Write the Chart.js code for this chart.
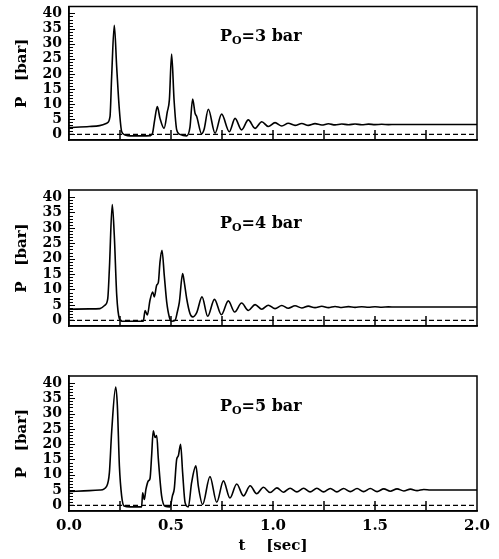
<!DOCTYPE html>
<html><head><meta charset="utf-8">
<script src="https://cdn.jsdelivr.net/npm/chart.js@4/dist/chart.umd.min.js"></script>
<style>
html,body{margin:0;padding:0;background:#fff;width:499px;height:559px;overflow:hidden}
canvas{position:absolute;left:0}
</style></head><body>
<canvas id="c1" width="499" height="170" style="top:0px"></canvas>
<canvas id="c2" width="499" height="185" style="top:170px"></canvas>
<canvas id="c3" width="499" height="204" style="top:355px"></canvas>
<script>
// ---- data (t in sec, P in bar) ----
const t1 = [0,0.10,0.15,0.185,0.201,0.209,0.222,0.234,0.247,0.258,0.275,0.30,0.35,0.40,0.41,0.42,0.433,0.446,0.466,0.482,0.492,0.503,0.515,0.528,0.544,0.577,0.593,0.606,0.618,0.626,0.650,0.662,0.683,0.716,0.748,0.786,0.814,0.846,0.879,0.912,0.945,0.977,1.010,1.043,1.075,1.108,1.141,1.173,1.206,1.239,1.272,1.304,1.337,1.370,1.402,1.435,1.468,1.500,1.533,1.566,1.60,1.70,1.80,1.90,2.00];
const p1 = [2.3,2.6,2.9,3.7,5.9,19.0,36.1,22.0,8.0,1.0,-0.2,-0.5,-0.5,-0.4,0.5,4.8,9.2,5.3,2.0,7.5,11.4,26.6,11.4,1.5,0.0,-0.5,2.4,11.7,7.0,5.9,0.2,1.6,8.3,0.4,6.7,0.9,5.3,1.5,4.8,2.0,4.2,2.6,3.9,2.8,3.7,3.0,3.6,3.0,3.55,3.1,3.5,3.15,3.45,3.2,3.45,3.2,3.4,3.25,3.35,3.25,3.3,3.3,3.3,3.3,3.3];

const t2 = [0,0.10,0.152,0.176,0.19,0.198,0.212,0.222,0.234,0.247,0.258,0.30,0.364,0.373,0.384,0.397,0.41,0.418,0.43,0.438,0.446,0.456,0.467,0.479,0.492,0.503,0.52,0.531,0.541,0.557,0.565,0.577,0.593,0.606,0.626,0.652,0.680,0.713,0.747,0.781,0.812,0.846,0.879,0.912,0.945,0.977,1.010,1.043,1.075,1.108,1.141,1.173,1.206,1.239,1.272,1.304,1.337,1.370,1.402,1.435,1.468,1.500,1.533,1.566,1.60,1.70,1.80,1.90,2.00];
const p2 = [3.6,3.7,3.8,4.9,7.0,16.8,37.6,27.6,8.1,0.5,-0.3,-0.3,-0.3,3.2,1.7,6.5,9.2,7.6,11.4,12.3,18.9,22.7,14.6,5.9,1.0,-0.3,0.0,2.7,5.9,15.2,12.4,7.0,2.2,1.1,2.5,7.6,1.3,6.8,1.8,6.3,2.7,5.6,3.2,5.1,3.6,4.9,3.8,4.8,3.9,4.7,4.0,4.6,4.1,4.55,4.1,4.5,4.15,4.45,4.2,4.4,4.25,4.4,4.25,4.35,4.3,4.3,4.3,4.3,4.3];

const t3 = [0,0.10,0.152,0.185,0.198,0.209,0.229,0.237,0.247,0.258,0.27,0.30,0.356,0.361,0.369,0.377,0.389,0.397,0.405,0.413,0.422,0.43,0.438,0.454,0.471,0.495,0.507,0.516,0.528,0.536,0.547,0.557,0.569,0.585,0.601,0.622,0.634,0.655,0.691,0.724,0.757,0.789,0.822,0.855,0.888,0.920,0.953,0.986,1.019,1.051,1.084,1.117,1.150,1.182,1.215,1.248,1.281,1.313,1.346,1.379,1.412,1.444,1.477,1.510,1.543,1.575,1.608,1.641,1.674,1.706,1.739,1.772,1.85,1.92,2.00];
const p3 = [4.5,4.8,5.0,6.3,10.7,23.9,38.7,32.7,12.9,3.1,-0.2,-0.5,-0.5,4.1,1.9,5.2,8.0,8.7,16.2,24.4,22.2,22.8,15.1,3.1,-0.3,-0.5,3.1,5.4,15.1,16.2,20.0,10.7,0.9,-0.5,7.4,12.9,6.3,0.3,9.4,1.0,8.0,2.4,7.0,3.1,6.4,3.8,5.9,4.2,5.7,4.3,5.6,4.4,5.6,4.4,5.6,4.4,5.5,4.4,5.5,4.5,5.5,4.5,5.5,4.5,5.4,4.6,5.4,4.7,5.3,4.8,5.2,5.0,5.0,5.0,5.0];

const initialPressures = ['3', '4', '5'];
const xTickValues = [0, 0.5, 1.0, 1.5, 2.0];
const yTickValues = [0, 5, 10, 15, 20, 25, 30, 35, 40];
const markerTimes = [0.25, 0.5, 0.75, 1.0, 1.25, 1.5, 1.75];
const referenceLevel = [0, 0];        // dashed P = 0 line, at t = 0 and t = 2
const referenceTimes = [0, 2];

const SERIF = '"DejaVu Serif", "Liberation Serif", serif';

const framePlugin = {
  id: 'frame',
  afterDraw(chart, args, opts) {
    const {ctx, chartArea: a, scales: {x, y}} = chart;
    ctx.save();
    ctx.strokeStyle = '#000';
    ctx.lineWidth = 1.5;
    ctx.strokeRect(a.left, a.top, a.right - a.left, a.bottom - a.top);
    // inner minor ticks on the left axis
    ctx.lineWidth = 1;
    for (let v = 0; v <= 40; v += 1) {
      const py = Math.round(y.getPixelForValue(v)) + 0.5;
      ctx.beginPath();
      ctx.moveTo(a.left, py);
      ctx.lineTo(a.left + (v % 5 === 0 ? 6 : 4), py);
      ctx.stroke();
    }
    // annotation P_O = n bar
    const px = x.getPixelForValue(opts.at[0]);
    const py = y.getPixelForValue(opts.at[1]);
    ctx.fillStyle = '#000';
    ctx.textBaseline = 'alphabetic';
    ctx.textAlign = 'left';
    ctx.font = 'bold 16px ' + SERIF;
    ctx.fillText('P', px, py);
    let cx = px + ctx.measureText('P').width;
    ctx.font = 'bold 11px ' + SERIF;
    ctx.fillText('O', cx, py + 3);
    cx += ctx.measureText('O').width;
    ctx.font = 'bold 16px ' + SERIF;
    ctx.fillText('=' + opts.p0 + ' bar', cx, py);
    ctx.restore();
  }
};

function makePanel(id, times, values, p0, cfg) {
  const curve = times.map((t, i) => ({x: t, y: values[i]}));
  const zero = referenceTimes.map((t, i) => ({x: t, y: referenceLevel[i]}));
  const marks = markerTimes.map(t => ({x: t, y: -0.2}));
  return new Chart(document.getElementById(id), {
    type: 'line',
    data: {
      datasets: [
        {data: curve, borderColor: '#000', borderWidth: 1.6, pointRadius: 0, cubicInterpolationMode: 'monotone', fill: false},
        {data: zero, borderColor: '#000', borderWidth: 1.2, borderDash: [5, 3], pointRadius: 0, fill: false},
        {data: marks, showLine: false, pointStyle: 'line', pointRotation: 90, pointRadius: 5, borderColor: '#000', borderWidth: 1.5}
      ]
    },
    options: {
      responsive: false,
      animation: false,
      devicePixelRatio: 1,
      layout: {padding: {top: cfg.padTop, right: 22, left: 0, bottom: 0}},
      plugins: {legend: {display: false}, tooltip: {enabled: false}, frame: {at: cfg.noteAt, p0: p0}},
      scales: {
        x: {
          type: 'linear', min: 0, max: 2,
          afterBuildTicks: s => { s.ticks = xTickValues.map(v => ({value: v})); },
          afterFit: s => { s.height = cfg.xHeight; s.paddingLeft = 0; s.paddingRight = 0; },
          grid: {drawOnChartArea: false, drawTicks: false},
          border: {display: true, color: '#000', width: 1.5},
          ticks: {display: cfg.showX, color: '#000', padding: 6, autoSkip: false, maxRotation: 0,
                  font: {family: SERIF, weight: 'bold', size: 15},
                  callback: v => Number(v).toFixed(1)},
          title: {display: cfg.showX, text: 't    [sec]', color: '#000',
                  font: {family: SERIF, weight: 'bold', size: 15}, padding: {top: 0, bottom: 4}}
        },
        y: {
          type: 'linear', min: -1.85, max: 42.3,
          afterBuildTicks: s => { s.ticks = yTickValues.map(v => ({value: v})); },
          afterFit: s => { s.width = 69; s.paddingTop = 0; s.paddingBottom = 0; },
          grid: {drawOnChartArea: false, drawTicks: false},
          border: {display: true, color: '#000', width: 1.5},
          ticks: {color: '#000', padding: 7, autoSkip: false,
                  font: {family: SERIF, weight: 'bold', size: 14}},
          title: {display: true, text: 'P   [bar]', color: '#000',
                  font: {family: SERIF, weight: 'bold', size: 15}, padding: {top: 13, bottom: 0}}
        }
      }
    },
    plugins: [framePlugin]
  });
}

makePanel('c1', t1, p1, initialPressures[0], {padTop: 6, xHeight: 30, showX: false, noteAt: [0.74, 31]});
makePanel('c2', t2, p2, initialPressures[1], {padTop: 20, xHeight: 29, showX: false, noteAt: [0.74, 30]});
makePanel('c3', t3, p3, initialPressures[2], {padTop: 21, xHeight: 48, showX: true, noteAt: [0.74, 31]});
</script>
</body></html>
